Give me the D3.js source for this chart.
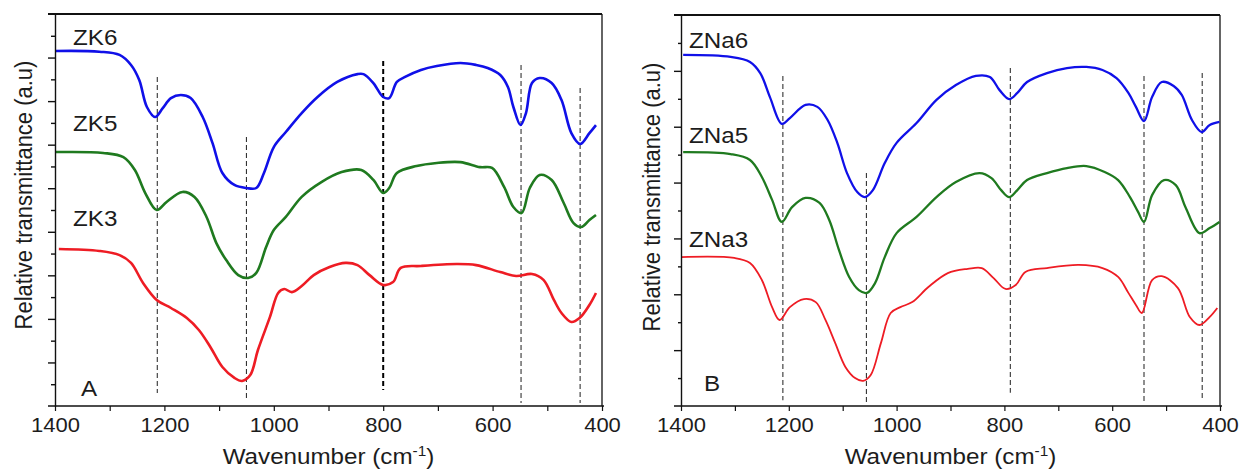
<!DOCTYPE html>
<html>
<head>
<meta charset="utf-8">
<script src="https://cdn.jsdelivr.net/npm/d3@7"></script>
<style>
  body { margin: 0; background: #fff; }
  text { font-family: "Liberation Sans", Arial, sans-serif; fill: #1c1c1c; }
</style>
</head>
<body>
<div id="chart"></div>
<script>
// Wavenumber ticks (shared by both panels)
var xTickValues = [1400, 1300, 1200, 1100, 1000, 900, 800, 700, 600, 500, 400];
var xTickLabels = [1400, 1200, 1000, 800, 600, 400];

// Panel A spectra: [wavenumber, relative transmittance]
var zk6 = [[1400,16.30],[1319,16.27],[1282,16.12],[1261,15.66],[1246,14.97],[1232,13.73],[1217,13.27],[1203,13.68],[1188,14.14],[1170,14.28],[1152,14.14],[1130,13.27],[1112,12.07],[1094,10.70],[1072,10.15],[1050,10.01],[1032,10.01],[1018,10.70],[1000,11.89],[978,12.58],[949,13.45],[920,14.19],[884,14.88],[847,15.24],[836,15.24],[818,14.83],[800,14.19],[789,14.14],[775,14.88],[760,15.11],[731,15.43],[702,15.61],[659,15.75],[630,15.66],[609,15.52],[586,15.20],[572,14.65],[562,13.73],[549,12.90],[539,13.45],[528,14.83],[514,15.06],[492,14.83],[474,14.05],[456,12.53],[440,12.03],[423,12.53],[411,12.90]];
var zk5 = [[1400,11.66],[1312,11.62],[1275,11.43],[1254,10.84],[1235,9.78],[1214,9.00],[1196,9.37],[1167,9.83],[1145,9.60],[1123,8.68],[1105,7.48],[1087,6.70],[1065,6.01],[1047,5.88],[1032,6.11],[1014,7.30],[1000,8.08],[978,8.68],[949,9.60],[913,10.28],[876,10.74],[840,10.84],[818,10.38],[800,9.78],[789,10.01],[775,10.70],[739,11.02],[702,11.16],[659,11.20],[623,10.97],[601,10.93],[579,10.06],[562,9.14],[547,8.86],[532,10.01],[514,10.61],[492,10.38],[470,9.32],[452,8.40],[438,8.22],[423,8.54],[411,8.77]];
var zk3 = [[1393,7.21],[1319,7.12],[1282,6.93],[1261,6.57],[1239,5.65],[1214,4.87],[1188,4.50],[1159,4.04],[1137,3.49],[1116,2.71],[1094,1.79],[1072,1.29],[1058,1.15],[1043,1.42],[1029,2.57],[1007,4.09],[992,5.19],[981,5.37],[967,5.23],[949,5.51],[927,6.01],[898,6.38],[869,6.57],[847,6.47],[825,6.01],[800,5.56],[782,5.69],[768,6.34],[731,6.43],[666,6.52],[630,6.47],[586,6.15],[557,5.97],[528,6.06],[507,5.79],[488,4.87],[474,4.27],[456,3.86],[441,4.04],[423,4.64],[411,5.19]];

// Panel B spectra
var zna6 = [[1396,12.57],[1308,12.50],[1272,12.32],[1253,11.92],[1235,11.06],[1213,10.10],[1198,10.31],[1169,10.78],[1147,10.71],[1128,10.24],[1110,9.42],[1092,8.34],[1073,7.66],[1059,7.48],[1044,7.73],[1022,8.70],[1000,9.42],[963,10.13],[926,10.96],[890,11.49],[853,11.82],[827,11.78],[809,11.31],[791,10.99],[776,11.21],[758,11.60],[721,11.92],[684,12.10],[648,12.14],[618,12.03],[592,11.74],[570,11.21],[556,10.71],[541,10.20],[526,11.06],[508,11.60],[486,11.46],[471,11.14],[452,10.24],[434,9.81],[419,10.06],[401,10.17]];
var zna5 = [[1396,9.09],[1308,9.02],[1272,8.81],[1250,8.20],[1231,7.38],[1213,6.59],[1194,7.12],[1169,7.45],[1143,7.27],[1125,6.66],[1107,5.59],[1088,4.62],[1070,4.15],[1055,4.05],[1040,4.40],[1022,5.33],[1000,6.19],[963,6.77],[926,7.48],[890,8.02],[846,8.34],[824,8.16],[806,7.73],[791,7.48],[776,7.73],[758,8.09],[721,8.34],[684,8.52],[648,8.59],[614,8.38],[589,8.09],[567,7.48],[552,6.95],[541,6.59],[526,7.55],[504,8.09],[482,7.91],[464,7.12],[438,6.19],[419,6.37],[401,6.59]];
var zna3 = [[1400,5.33],[1301,5.30],[1272,5.12],[1250,4.51],[1231,3.54],[1217,3.08],[1198,3.54],[1172,3.83],[1150,3.72],[1132,3.08],[1114,2.26],[1095,1.40],[1077,1.00],[1062,0.90],[1048,1.11],[1029,2.26],[1011,3.33],[993,3.54],[971,3.72],[941,4.26],[905,4.76],[868,4.91],[842,4.94],[820,4.58],[798,4.19],[779,4.33],[761,4.80],[721,4.94],[662,5.05],[618,4.94],[589,4.62],[570,4.05],[556,3.62],[545,3.33],[526,4.51],[508,4.65],[478,4.22],[456,3.19],[438,2.90],[419,3.19],[405,3.51]];

// Dashed marker lines: [wavenumber, top, bottom]
var markersA = [[1213,15.11,0.60],[1050,12.35,0.28],[800,15.84,0.73],[548,15.66,0.14],[440,14.60,0.14]];
var markersB = [[1211,11.82,0.21],[1056,8.34,0.11],[789,12.10,0.47],[541,11.82,0.14],[433,11.92,0.21]];

var namesA = ["ZK6", "ZK5", "ZK3"];
var namesB = ["ZNa6", "ZNa5", "ZNa3"];
var seriesColors = ["#1010e8", "#1f7a1f", "#ee1c24"];

var svg = d3.select("#chart").append("svg")
  .attr("width", 1240)
  .attr("height", 470);

// stretch all text a bit wider like the picture
function stretchText(sel, x, y) {
  sel.attr("transform", "translate(" + x + "," + y + ") scale(1.1,1)");
}

function drawPanel(p) {
  var x = d3.scaleLinear().domain([1400, 400]).range([p.left, p.right]);
  var y = d3.scaleLinear().domain([0, p.yMax]).range([p.bottom, p.top]);
  var g = svg.append("g");

  // frame: top + right borders
  g.append("line").attr("x1", p.left - 7).attr("x2", p.right)
    .attr("y1", p.top).attr("y2", p.top)
    .attr("stroke", "#111").attr("stroke-width", 2);
  g.append("line").attr("x1", p.right).attr("x2", p.right)
    .attr("y1", p.top).attr("y2", p.bottom)
    .attr("stroke", "#111").attr("stroke-width", 1.3);

  // dashed markers
  g.selectAll(".mk").data(p.markers).enter().append("line")
    .attr("x1", function(d) { return x(d[0]); })
    .attr("x2", function(d) { return x(d[0]); })
    .attr("y1", function(d) { return y(d[1]); })
    .attr("y2", function(d) { return y(d[2]); })
    .attr("stroke", function(d) { return (p.boldAt === d[0]) ? "#000" : "#333"; })
    .attr("stroke-width", function(d) { return (p.boldAt === d[0]) ? 2 : 1.1; })
    .attr("stroke-dasharray", "5,3");

  // spectra
  var line = d3.line()
    .x(function(d) { return x(d[0]); })
    .y(function(d) { return y(d[1]); })
    .curve(d3.curveCatmullRom.alpha(0.5));
  p.series.forEach(function(s, i) {
    g.append("path").datum(s)
      .attr("fill", "none")
      .attr("stroke", seriesColors[i])
      .attr("stroke-width", p.widths[i])
      .attr("stroke-linejoin", "round")
      .attr("d", line);
  });

  // x axis
  var xAxis = d3.axisBottom(x).tickValues(xTickValues).tickSize(5).tickPadding(7).tickSizeOuter(0)
    .tickFormat(function(d) { return xTickLabels.indexOf(d) >= 0 ? d : ""; });
  var ax = g.append("g").attr("transform", "translate(0," + p.bottom + ")").call(xAxis);
  ax.select(".domain").attr("d", "M" + (p.left - 7) + ",0H" + (p.right + 2)).attr("stroke", "#111").attr("stroke-width", 1.6);
  ax.selectAll(".tick line").attr("stroke", "#111").attr("stroke-width", 1.2);
  ax.selectAll(".tick text").attr("font-size", 20).attr("font-family", "Liberation Sans, Arial, sans-serif")
    .attr("fill", "#1c1c1c").attr("transform", "scale(1.1,1)");

  // y axis, unlabeled ticks
  var yTicks = d3.range(1, p.yMax);
  var yAxis = d3.axisLeft(y).tickValues(yTicks).tickFormat("").tickSizeOuter(0);
  var ay = g.append("g").attr("transform", "translate(" + p.left + ",0)").call(yAxis);
  ay.select(".domain").attr("stroke", "#111").attr("stroke-width", 1.4);
  ay.selectAll(".tick line")
    .attr("x2", function(d) { return d % 2 === 0 ? -p.majorTick : -p.minorTick; })
    .attr("stroke", "#111").attr("stroke-width", 1.4);

  // series names
  p.names.forEach(function(n, i) {
    var t = g.append("text").attr("font-size", 22).text(n);
    stretchText(t, p.nameX, p.nameY[i]);
  });
  var tl = g.append("text").attr("font-size", 22).text(p.tag);
  stretchText(tl, p.tagX, p.tagY);

  // axis titles
  var xt = g.append("text").attr("font-size", 22).attr("text-anchor", "middle");
  xt.append("tspan").text("Wavenumber (cm");
  xt.append("tspan").attr("font-size", 14).attr("dy", -8).text("-1");
  xt.append("tspan").attr("dy", 8).text(")");
  stretchText(xt, (p.left + p.right) / 2, 464);

  g.append("text").attr("font-size", 22).attr("text-anchor", "middle")
    .attr("transform", "translate(" + p.yTitleX + "," + p.yTitleY + ") rotate(-90) scale(1,1.1)")
    .text("Relative transmittance (a.u)");
}

drawPanel({
  left: 55, right: 602, top: 14, bottom: 406, yMax: 18,
  series: [zk6, zk5, zk3], widths: [2.6, 2.6, 2.6], markers: markersA, boldAt: 800,
  names: namesA, nameX: 73, nameY: [45, 131, 226], tag: "A", tagX: 81, tagY: 396,
  majorTick: 7, minorTick: 4, yTitleX: 32, yTitleY: 195
});
drawPanel({
  left: 681, right: 1220, top: 15, bottom: 406, yMax: 14,
  series: [zna6, zna5, zna3], widths: [2.3, 2.3, 1.8], markers: markersB, boldAt: null,
  names: namesB, nameX: 689, nameY: [48, 143, 247], tag: "B", tagX: 704, tagY: 391,
  majorTick: 7, minorTick: 3, yTitleX: 660, yTitleY: 197
});
</script>
</body>
</html>
